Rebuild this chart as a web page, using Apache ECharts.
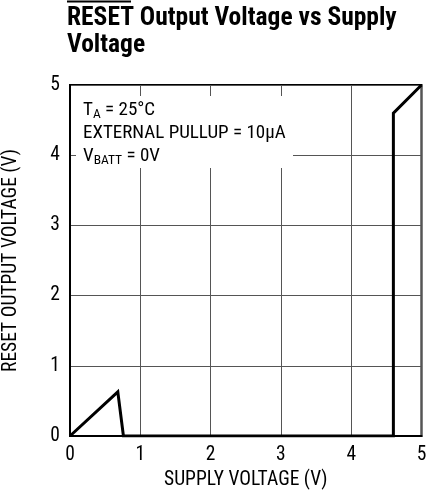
<!DOCTYPE html>
<html>
<head>
<meta charset="utf-8">
<script src="https://cdn.jsdelivr.net/npm/echarts@6/dist/echarts.min.js"></script>
<style>html,body{margin:0;padding:0;background:#fff;}#c{width:428px;height:493px;}</style>
</head>
<body>
<div id="c"></div>
<script>
const supplyVoltage = [0, 0.68, 0.76, 4.6, 4.6, 5.0];
const resetVoltage  = [0, 0.63, 0.0, 0.0, 4.6, 5.0];
const xTicks = [0, 1, 2, 3, 4, 5];
const yTicks = [0, 1, 2, 3, 4, 5];
const FONT = "'Roboto Condensed', 'DejaVu Sans Condensed', sans-serif";

const chart = echarts.init(document.getElementById('c'), null, {renderer: 'canvas'});
chart.setOption({
  animation: false,
  backgroundColor: '#fff',
  title: {
    text: 'RESET Output Voltage vs Supply\nVoltage',
    left: 62, top: 0,
    textStyle: {fontFamily: FONT, fontWeight: 'bold', fontSize: 25.5, lineHeight: 27, color: '#000'}
  },
  grid: {left: 70, right: 6.5, top: 85, bottom: 57, show: true, borderColor: '#000', borderWidth: 2,
         backgroundColor: 'transparent', outerBoundsMode: 'none', containLabel: false},
  xAxis: {
    type: 'value', min: xTicks[0], max: xTicks[xTicks.length - 1], interval: 1,
    name: 'SUPPLY VOLTAGE (V)', nameLocation: 'middle', nameGap: 34,
    nameTextStyle: {fontFamily: FONT, fontSize: 19.5, color: '#000'},
    axisLine: {show: true, lineStyle: {color: '#000', width: 2}},
    axisTick: {show: false},
    axisLabel: {fontFamily: FONT, fontSize: 19.5, color: '#000', margin: 9},
    splitLine: {show: true, lineStyle: {color: '#555', width: 1}}
  },
  yAxis: {
    type: 'value', min: yTicks[0], max: yTicks[yTicks.length - 1], interval: 1,
    name: 'RESET OUTPUT VOLTAGE (V)', nameLocation: 'middle', nameGap: 49,
    nameTextStyle: {fontFamily: FONT, fontSize: 19.5, color: '#000'},
    axisLine: {show: true, lineStyle: {color: '#000', width: 2}},
    axisTick: {show: false},
    axisLabel: {fontFamily: FONT, fontSize: 19.5, color: '#000', margin: 10},
    splitLine: {show: true, lineStyle: {color: '#555', width: 1}}
  },
  series: [{
    type: 'line',
    data: supplyVoltage.map((x, i) => [x, resetVoltage[i]]),
    showSymbol: false, symbol: 'none',
    lineStyle: {color: '#000', width: 3, join: 'miter'},
    z: 5
  }],
  graphic: [
    {type: 'rect', z: 10, shape: {x: 76, y: 96, width: 217, height: 72}, style: {fill: '#fff'}},
    {type: 'text', z: 11, left: 83, top: 99, style: {
      text: 'T{sub|A} = 25°C\nEXTERNAL PULLUP = 10μA\nV{sub|BATT} = 0V',
      font: '19px ' + FONT, fill: '#000', lineHeight: 23,
      rich: {sub: {fontFamily: FONT, fontSize: 13.5, padding: [8, 0, 0, 0], fill: '#000'}}
    }},
    {type: 'line', z: 11, shape: {x1: 67, y1: 1.5, x2: 131, y2: 1.5}, style: {stroke: '#000', lineWidth: 2}}
  ]
});
</script>
</body>
</html>
